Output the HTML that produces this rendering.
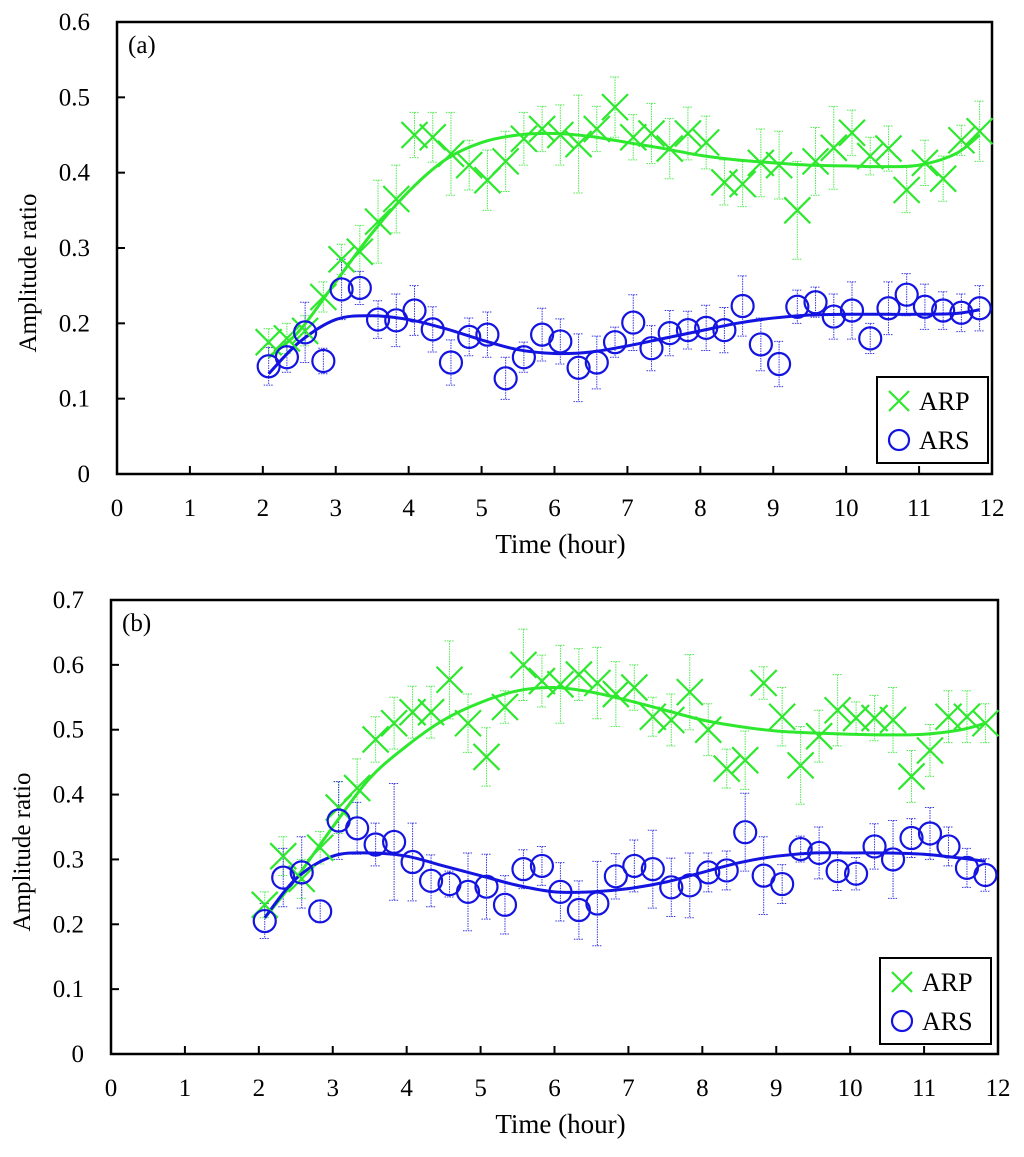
<!DOCTYPE html>
<html><head><meta charset="utf-8"><style>
html,body{margin:0;padding:0;background:#fff;}
svg{display:block;font-family:"Liberation Serif",serif;}
</style></head><body>
<svg id="chart" width="1024" height="1157" viewBox="0 0 1024 1157" xmlns="http://www.w3.org/2000/svg"></svg>
<script>
// ---- shared ----
const xTicks = [0,1,2,3,4,5,6,7,8,9,10,11,12];
const times = [2.08,2.33,2.58,2.83,3.08,3.33,3.58,3.83,4.08,4.33,4.58,4.83,5.08,5.33,5.58,5.83,6.08,6.33,6.58,6.83,7.08,7.33,7.58,7.83,8.08,8.33,8.58,8.83,9.08,9.33,9.58,9.83,10.08,10.33,10.58,10.83,11.08,11.33,11.58,11.83];
const fitTimes = [2.08,2.5,3,3.5,4,4.5,5,5.5,6,6.5,7,7.5,8,8.5,9,9.5,10,10.5,11,11.5,11.83];
// ---- panel a ----
const yTicksA = [0,0.1,0.2,0.3,0.4,0.5,0.6];
const arpA = [0.175,0.18,0.19,0.235,0.285,0.295,0.335,0.365,0.45,0.447,0.425,0.41,0.39,0.415,0.445,0.458,0.45,0.438,0.458,0.487,0.447,0.452,0.432,0.452,0.44,0.387,0.385,0.413,0.41,0.35,0.415,0.433,0.453,0.422,0.432,0.377,0.413,0.392,0.443,0.455];
const arpErrA = [0.018,0.02,0.02,0.02,0.02,0.035,0.055,0.045,0.03,0.033,0.055,0.033,0.04,0.04,0.035,0.03,0.04,0.065,0.03,0.04,0.03,0.04,0.04,0.035,0.035,0.03,0.03,0.045,0.045,0.065,0.045,0.055,0.03,0.025,0.03,0.03,0.03,0.03,0.02,0.04];
const arsA = [0.143,0.155,0.188,0.15,0.245,0.247,0.205,0.204,0.217,0.192,0.148,0.182,0.185,0.127,0.155,0.185,0.176,0.141,0.148,0.175,0.201,0.167,0.187,0.191,0.194,0.191,0.223,0.172,0.146,0.222,0.228,0.209,0.217,0.18,0.22,0.238,0.222,0.217,0.214,0.22];
const arsErrA = [0.025,0.02,0.04,0.017,0.04,0.022,0.025,0.035,0.033,0.03,0.03,0.025,0.03,0.028,0.02,0.035,0.03,0.045,0.035,0.02,0.037,0.03,0.03,0.025,0.03,0.03,0.04,0.035,0.03,0.022,0.02,0.03,0.038,0.02,0.035,0.028,0.03,0.025,0.025,0.03];
const arpFitA = [0.155,0.19,0.255,0.32,0.375,0.417,0.44,0.45,0.452,0.448,0.44,0.432,0.423,0.417,0.413,0.41,0.409,0.408,0.41,0.425,0.45];
const arsFitA = [0.133,0.175,0.205,0.21,0.205,0.193,0.178,0.165,0.16,0.162,0.17,0.18,0.19,0.2,0.207,0.211,0.212,0.212,0.212,0.213,0.218];
// ---- panel b ----
const yTicksB = [0,0.1,0.2,0.3,0.4,0.5,0.6,0.7];
const arpB = [0.23,0.305,0.27,0.318,0.38,0.41,0.485,0.51,0.527,0.527,0.577,0.51,0.458,0.535,0.6,0.575,0.57,0.585,0.572,0.555,0.565,0.52,0.515,0.558,0.5,0.44,0.453,0.572,0.52,0.445,0.49,0.53,0.518,0.518,0.515,0.428,0.468,0.52,0.52,0.51];
const arpErrB = [0.02,0.03,0.03,0.025,0.04,0.045,0.035,0.04,0.04,0.04,0.06,0.045,0.045,0.025,0.055,0.04,0.06,0.04,0.055,0.05,0.035,0.03,0.04,0.058,0.04,0.03,0.045,0.025,0.045,0.06,0.04,0.055,0.025,0.035,0.05,0.04,0.04,0.04,0.04,0.03];
const arsB = [0.205,0.272,0.28,0.22,0.36,0.348,0.323,0.327,0.296,0.267,0.262,0.25,0.258,0.23,0.285,0.29,0.25,0.222,0.232,0.274,0.29,0.285,0.257,0.26,0.28,0.283,0.342,0.275,0.262,0.316,0.31,0.282,0.278,0.32,0.3,0.333,0.34,0.32,0.287,0.276];
const arsErrB = [0.027,0.045,0.055,0.017,0.06,0.04,0.033,0.09,0.06,0.04,0.02,0.06,0.05,0.045,0.03,0.03,0.045,0.045,0.065,0.035,0.04,0.06,0.045,0.05,0.03,0.03,0.06,0.06,0.03,0.02,0.04,0.03,0.025,0.035,0.06,0.03,0.04,0.03,0.03,0.025];
const arpFitB = [0.21,0.27,0.35,0.425,0.475,0.515,0.542,0.56,0.565,0.558,0.545,0.53,0.515,0.505,0.498,0.495,0.493,0.492,0.493,0.5,0.51];
const arsFitB = [0.21,0.27,0.305,0.31,0.305,0.29,0.275,0.26,0.25,0.25,0.255,0.265,0.28,0.295,0.305,0.31,0.31,0.31,0.308,0.302,0.297];

const NS = "http://www.w3.org/2000/svg";
const svg = document.getElementById('chart');
function mk(tag, attrs, parent){
  const e = document.createElementNS(NS, tag);
  for (const k in attrs) e.setAttribute(k, attrs[k]);
  (parent||svg).appendChild(e);
  return e;
}
const GREEN = "#2ee82e", BLUE = "#1414e0";

function smoothPath(pts){
  let d = "M" + pts[0][0] + "," + pts[0][1];
  for (let i=0;i<pts.length-1;i++){
    const p0 = pts[Math.max(0,i-1)], p1 = pts[i], p2 = pts[i+1], p3 = pts[Math.min(pts.length-1,i+2)];
    const c1x = p1[0]+(p2[0]-p0[0])/6, c1y = p1[1]+(p2[1]-p0[1])/6;
    const c2x = p2[0]-(p3[0]-p1[0])/6, c2y = p2[1]-(p3[1]-p1[1])/6;
    d += " C"+c1x+","+c1y+" "+c2x+","+c2y+" "+p2[0]+","+p2[1];
  }
  return d;
}

function panel(cfg){
  const g = mk('g', {});
  
  
  const L=cfg.left, R=cfg.right, T=cfg.top, B=cfg.bottom, ymax=cfg.ymax;
  const sx = v => L + (v/12)*(R-L);
  const sy = v => B - (v/ymax)*(B-T);
  const fr = mk('rect', {x:L,y:T,width:R-L,height:B-T,fill:'none',stroke:'#000','stroke-width':2.5}, g);
  
  
  xTicks.forEach(t=>{
    const x = sx(t);
    if (t>0 && t<12) {
      const tk = mk('line', {x1:x,y1:B,x2:x,y2:B-8,stroke:'#000','stroke-width':2}, g);
      
      
    }
    const tl = mk('text', {x:x,y:B+42,'font-size':25,'text-anchor':'middle',fill:'#000'}, g);
    tl.textContent = t;
    
    
  });
  cfg.yTicks.forEach(t=>{
    const y = sy(t);
    if (t>0 && t<ymax-1e-9) {
      const tk = mk('line', {x1:L,y1:y,x2:L+8,y2:y,stroke:'#000','stroke-width':2}, g);
      
      
    }
    const tl = mk('text', {x:L-27,y:y+8,'font-size':25,'text-anchor':'end',fill:'#000'}, g);
    tl.textContent = (t===0) ? "0" : t.toFixed(1);
    
    
  });
  const xt = mk('text', {x:(L+R)/2+6,y:B+79,'font-size':27,'text-anchor':'middle',fill:'#000'}, g);
  xt.textContent = "Time (hour)";
  
  
  const yt = mk('text', {x:0,y:0,'font-size':25,'text-anchor':'middle',fill:'#000',transform:'translate('+(L-81)+','+((T+B)/2+25)+') rotate(-90)'}, g);
  yt.textContent = "Amplitude ratio";
  
  
  const pl = mk('text', {x:L+11,y:T+31,'font-size':25,fill:'#000'}, g);
  pl.textContent = cfg.label;
  
  

  function errBars(vals, errs, color, nm){
    const eg = mk('g', {stroke:color,'stroke-width':1,'stroke-dasharray':'1.5,1',opacity:0.85}, g);
    
    
    vals.forEach((v,i)=>{
      const x = sx(times[i]), y1 = sy(v+errs[i]), y2 = sy(v-errs[i]);
      mk('line', {x1:x,y1:y1,x2:x,y2:y2}, eg);
      mk('line', {x1:x-5,y1:y1,x2:x+5,y2:y1}, eg);
      mk('line', {x1:x-5,y1:y2,x2:x+5,y2:y2}, eg);
    });
  }
  errBars(cfg.arp, cfg.arpErr, GREEN, 'arp-error-bars');
  errBars(cfg.ars, cfg.arsErr, BLUE, 'ars-error-bars');

  const f1 = mk('path', {d:smoothPath(fitTimes.map((t,i)=>[sx(t),sy(cfg.arpFit[i])])),fill:'none',stroke:GREEN,'stroke-width':3}, g);
  
  
  const f2 = mk('path', {d:smoothPath(fitTimes.map((t,i)=>[sx(t),sy(cfg.arsFit[i])])),fill:'none',stroke:BLUE,'stroke-width':3}, g);
  
  

  cfg.arp.forEach((v,i)=>{
    const x = sx(times[i]), y = sy(v), s = 13;
    const m = mk('path', {d:'M'+(x-s)+','+(y-s)+'L'+(x+s)+','+(y+s)+'M'+(x-s)+','+(y+s)+'L'+(x+s)+','+(y-s),stroke:GREEN,'stroke-width':2.2,fill:'none'}, g);
    
    
  });
  cfg.ars.forEach((v,i)=>{
    const c = mk('circle', {cx:sx(times[i]),cy:sy(v),r:11,fill:'none',stroke:BLUE,'stroke-width':2.2}, g);
    
    
  });

  const lg = mk('g', {}, g);
  
  
  const lx = cfg.legend[0], ly = cfg.legend[1];
  mk('rect', {x:lx,y:ly,width:111,height:86,fill:'#fff',stroke:'#000','stroke-width':2}, lg);
  const e1 = mk('g', {}, lg);
  
  
  mk('path', {d:'M'+(lx+12)+','+(ly+14)+'L'+(lx+32)+','+(ly+34)+'M'+(lx+12)+','+(ly+34)+'L'+(lx+32)+','+(ly+14),stroke:GREEN,'stroke-width':2.2,fill:'none'}, e1);
  const t1 = mk('text', {x:lx+42,y:ly+33,'font-size':26,fill:'#000'}, e1);
  t1.textContent = "ARP";
  const e2 = mk('g', {}, lg);
  
  
  mk('circle', {cx:lx+22,cy:ly+63,r:10,fill:'none',stroke:BLUE,'stroke-width':2.2}, e2);
  const t2 = mk('text', {x:lx+42,y:ly+72,'font-size':26,fill:'#000'}, e2);
  t2.textContent = "ARS";
}

panel({name:'panel-a', label:'(a)', left:117, right:992, top:22, bottom:474, ymax:0.6, yTicks:yTicksA,
  arp:arpA, arpErr:arpErrA, ars:arsA, arsErr:arsErrA, arpFit:arpFitA, arsFit:arsFitA, legend:[877,377]});
panel({name:'panel-b', label:'(b)', left:111, right:998, top:600, bottom:1054, ymax:0.7, yTicks:yTicksB,
  arp:arpB, arpErr:arpErrB, ars:arsB, arsErr:arsErrB, arpFit:arpFitB, arsFit:arsFitB, legend:[880,958]});
</script>
</body></html>
